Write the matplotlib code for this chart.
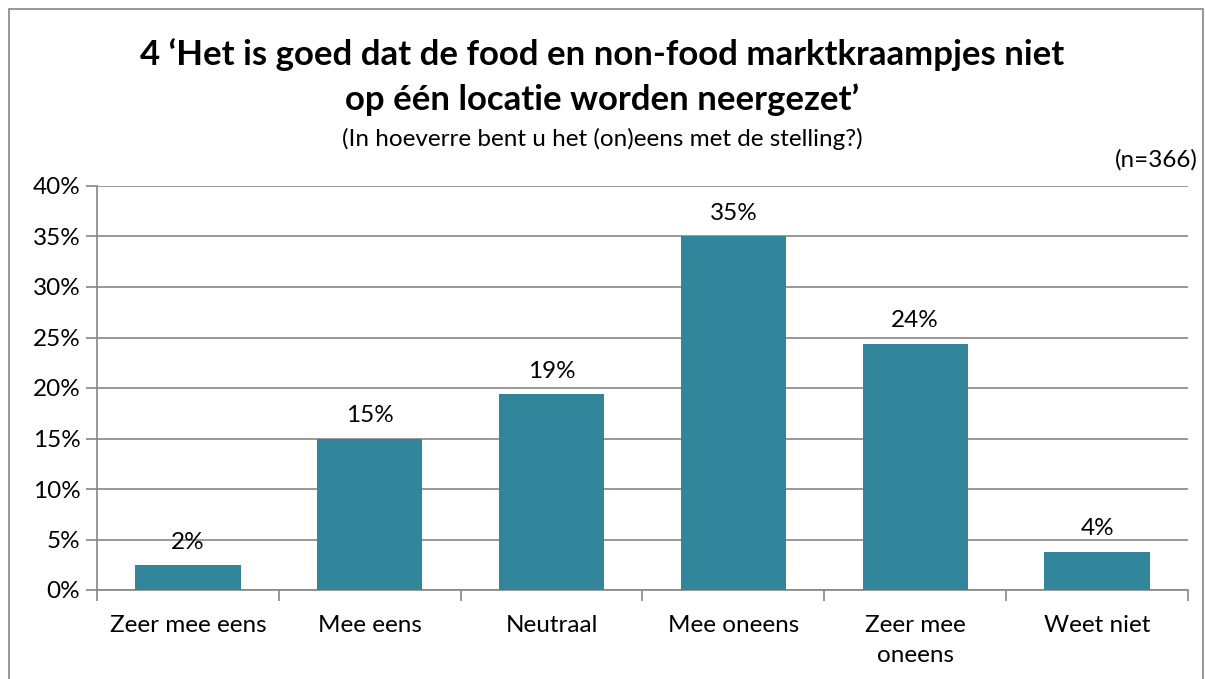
import matplotlib
matplotlib.use("Agg")
import matplotlib.pyplot as plt
from matplotlib.patches import Rectangle
from matplotlib.ticker import MultipleLocator, FuncFormatter

categories = ["Zeer mee eens", "Mee eens", "Neutraal", "Mee oneens", "Zeer mee\noneens", "Weet niet"]
values = [2.46, 15.0, 19.4, 35.0, 24.4, 3.8]
title_text = "4 \u2018Het is goed dat de food en non-food marktkraampjes niet\nop één locatie worden neergezet\u2019"
subtitle_text = "(In hoeverre bent u het (on)eens met de stelling?)"
n_text = "(n=366)"

plt.rcParams['font.family'] = ['Lato', 'DejaVu Sans']
W, H = 1205, 679
fig = plt.figure(figsize=(W / 100, H / 100), dpi=100)
fig.patch.set_facecolor("white")

# outer frame
fig.patches.append(Rectangle((9 / W, -0.05), (1203 - 9) / W, (H - 9) / H + 0.05,
                             transform=fig.transFigure, fill=False,
                             edgecolor="#868686", linewidth=1.2))

left, right, top, bottom = 97, 1188, 186, 590
ax = fig.add_axes([left / W, 1 - bottom / H, (right - left) / W, (bottom - top) / H])

color = "#31869B"
x = list(range(len(categories)))
ax.bar(x, values, width=0.58, color=color, zorder=3)
ax.set_xlim(-0.5, len(categories) - 0.5)
ax.set_ylim(0, 40)
ax.yaxis.set_major_locator(MultipleLocator(5))
ax.yaxis.set_major_formatter(FuncFormatter(lambda v, p: f"{v:.0f}%"))
ax.grid(axis="y", color="#868686", linewidth=1.2, zorder=0)
ax.set_axisbelow(True)

for s in ["top", "right"]:
    ax.spines[s].set_visible(False)
for s in ["left", "bottom"]:
    ax.spines[s].set_color("#868686")
    ax.spines[s].set_linewidth(1.2)

ax.set_xticks([i - 0.5 for i in range(len(categories) + 1)], minor=False)
ax.set_xticklabels([])
ax.set_xticks(x, minor=True)
ax.set_xticklabels(categories, minor=True, fontsize=17.5, linespacing=1.5)
ax.tick_params(axis="x", which="major", length=8, color="#868686", width=1.2)
ax.tick_params(axis="x", which="minor", length=0, pad=18)
ax.tick_params(axis="y", length=8, color="#868686", width=1.2, labelsize=17.5, pad=4)

for xi, v in zip(x, values):
    ax.annotate(f"{v:.0f}%", (xi, v), xytext=(0, 9), textcoords="offset points",
                ha="center", va="bottom", fontsize=17.5)

fig.text(0.5, 1 - 77 / H, title_text, ha="center", va="center", fontsize=25,
         fontweight="bold", linespacing=1.45)
fig.text(0.5, 1 - 139 / H, subtitle_text, ha="center", va="center", fontsize=17.5)
fig.text(1198 / W, 1 - 160 / H, n_text, ha="right", va="center", fontsize=17.5)

fig.savefig("out.png", dpi=100)
